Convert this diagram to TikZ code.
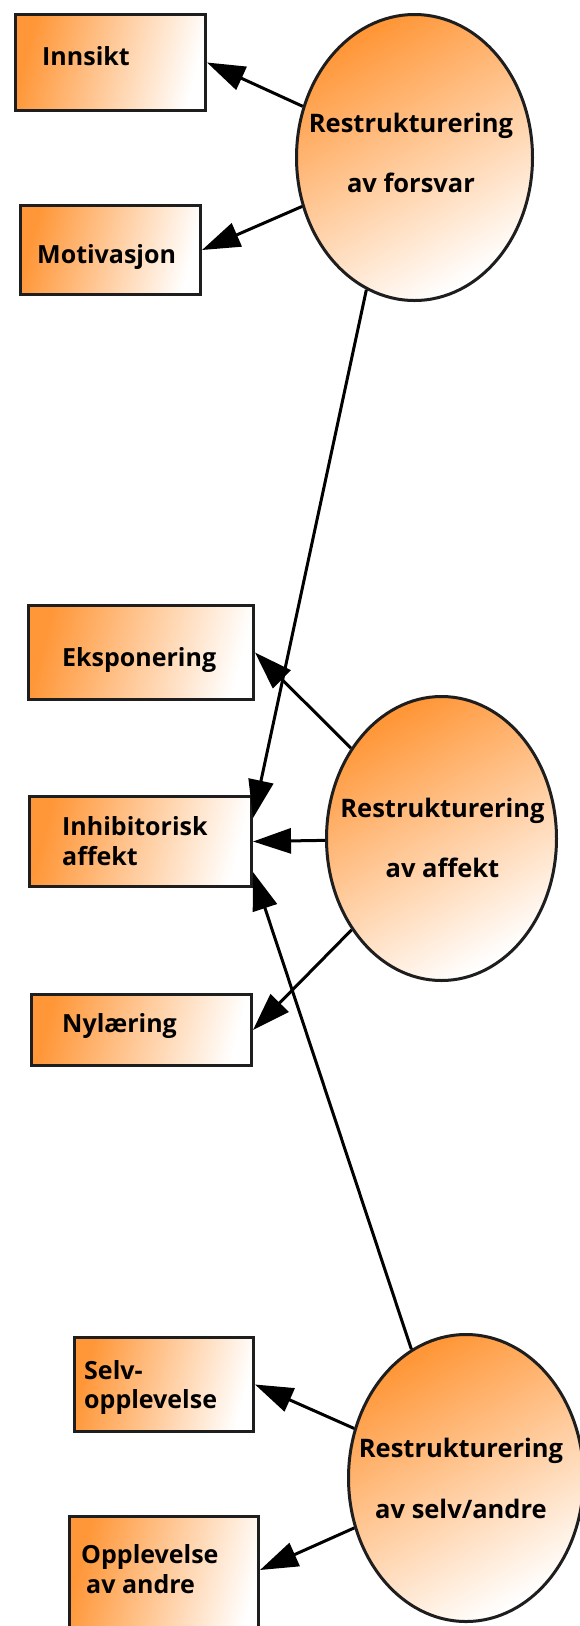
\documentclass[tikz,border=0pt]{standalone}
\usepackage{fontspec}
\setmainfont{Open Sans}
\usetikzlibrary{arrows.meta,shapes.geometric}
\definecolor{org}{RGB}{255,150,55}
\definecolor{edgec}{RGB}{30,30,30}
\begin{document}
\begin{tikzpicture}[x=1pt,y=-1pt,
  box/.style={rectangle, draw=edgec, line width=3pt, inner sep=0pt,
    left color=org, right color=white, shading angle=75},
  oval/.style={ellipse, draw=edgec, line width=3pt, inner sep=0pt,
    top color=org, bottom color=white, shading angle=30},
  txt/.style={font=\bfseries\fontsize{25}{30}\selectfont, inner sep=0pt, anchor=base west, text=black},
  ctxt/.style={font=\bfseries\fontsize{25.5}{30}\selectfont, inner sep=0pt, anchor=base, text=black},
  arr/.style={line width=3pt, draw=black, -{Triangle[length=38pt,width=25pt]}}]
\useasboundingbox (0,0) rectangle (579,1626);
\fill[white] (0,0) rectangle (579,1626);

% boxes
\node[box, minimum width=190pt, minimum height=96pt] (innsikt) at (110.5,62.5) {};
\node[box, minimum width=180pt, minimum height=89pt] (motiv) at (110.5,250) {};
\node[box, minimum width=225pt, minimum height=94pt] (ekspo) at (141,652.5) {};
\node[box, minimum width=222pt, minimum height=90pt] (inhib) at (140.5,841.5) {};
\node[box, minimum width=220pt, minimum height=71pt] (nyl) at (141.5,1030) {};
\node[box, minimum width=179pt, minimum height=94pt] (selv) at (164,1384.5) {};
\node[box, minimum width=189pt, minimum height=132pt] (opp) at (164,1582.5) {};

% ellipses
\node[oval, minimum width=236pt, minimum height=286pt] (e1) at (414.5,157.5) {};
\node[oval, minimum width=230pt, minimum height=284pt] (e2) at (441.5,838.5) {};
\node[oval, minimum width=235pt, minimum height=287pt] (e3) at (466,1478) {};

% box texts
\node[txt] (t-innsikt) at (42,65) {Innsikt};
\node[txt] (t-motiv) at (37,263) {Motivasjon};
\node[txt] (t-ekspo) at (62,666) {Eksponering};
\node[txt] (t-inhib1) at (62,835) {Inhibitorisk};
\node[txt] (t-inhib2) at (62,865) {affekt};
\node[txt] (t-nyl) at (62,1032) {Nylæring};
\node[txt] (t-selv1) at (84,1379) {Selv-};
\node[txt] (t-selv2) at (84,1408) {opplevelse};
\node[txt] (t-opp1) at (81,1563) {Opplevelse};
\node[txt] (t-opp2) at (86,1593) {av andre};

% ellipse texts
\node[ctxt] (t-e1a) at (411,132) {Restrukturering};
\node[ctxt] (t-e1b) at (411,192) {av forsvar};
\node[ctxt] (t-e2a) at (442.5,817) {Restrukturering};
\node[ctxt] (t-e2b) at (442.5,877) {av affekt};
\node[ctxt] (t-e3a) at (461,1457) {Restrukturering};
\node[ctxt] (t-e3b) at (461,1518) {av selv/andre};

% connectors
\draw[arr] (e1) -- (innsikt.east);
\draw[arr] (e1) -- (motiv.east);
\draw[arr] (e1.250) -- ([yshift=23.5pt]inhib.east);
\draw[arr] (e2) -- (ekspo.east);
\draw[arr] (e2) -- (inhib.east);
\draw[arr] (e2) -- (nyl.east);
\draw[arr] (e3.113) -- ([yshift=-30.5pt]inhib.east);
\draw[arr] (e3) -- (selv.east);
\draw[arr] (e3) -- ([yshift=12.5pt]opp.east);
\end{tikzpicture}
\end{document}
